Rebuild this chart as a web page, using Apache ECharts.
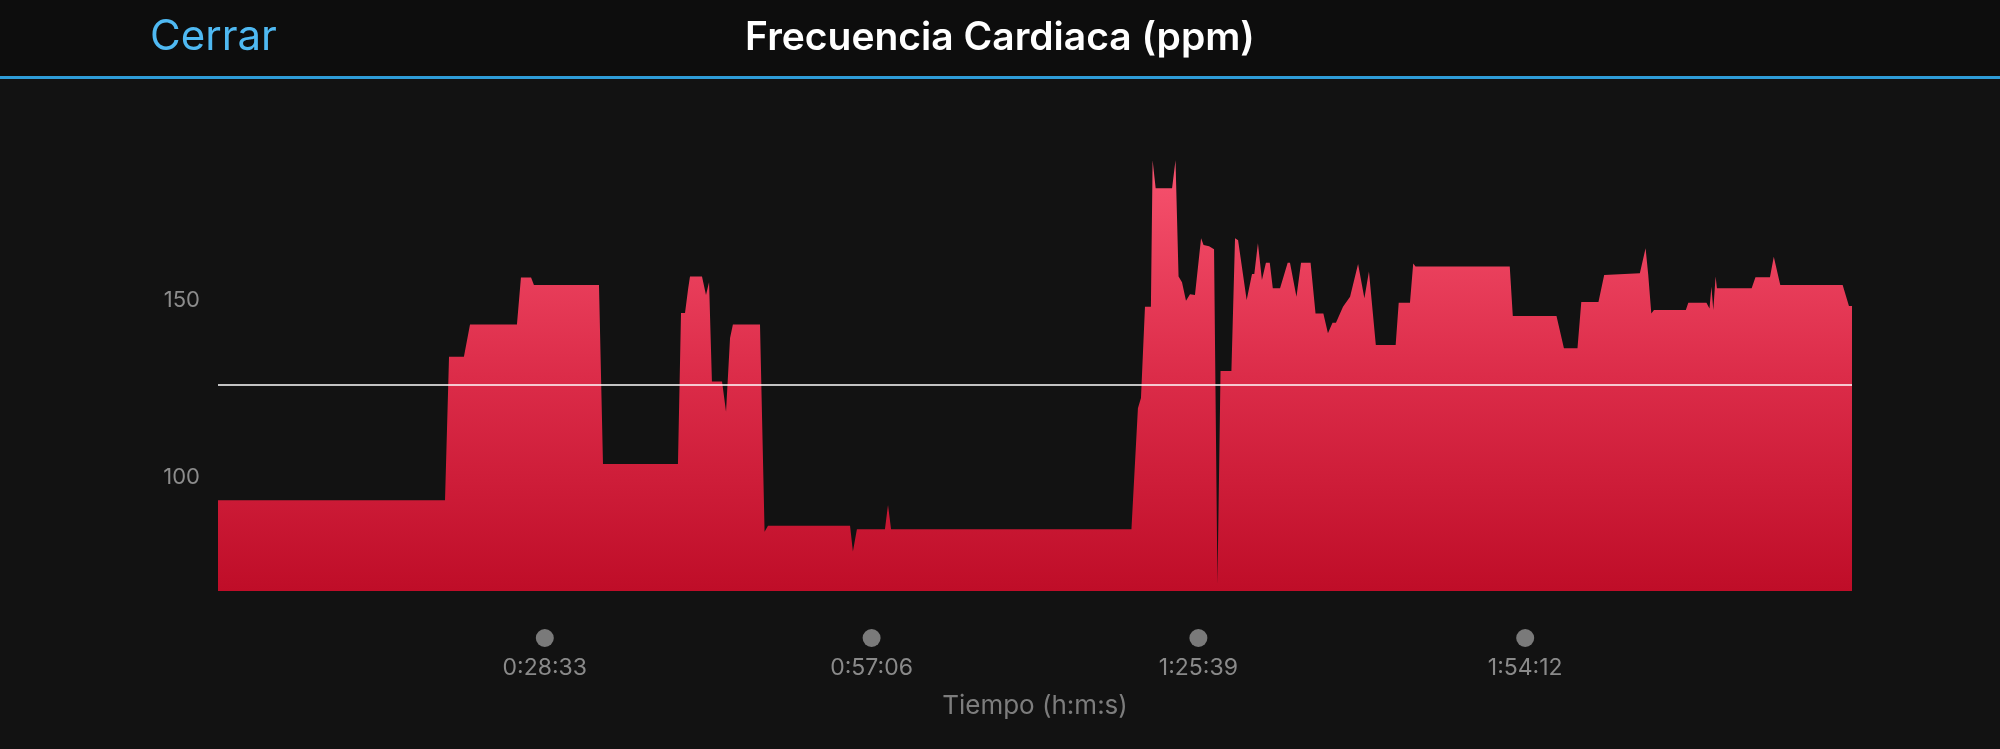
<!DOCTYPE html>
<html>
<head>
<meta charset="utf-8">
<script src="https://cdn.jsdelivr.net/npm/echarts@6/dist/echarts.min.js"></script>
<style>
html,body{margin:0;padding:0;background:#121212;}
#chart{width:2000px;height:749px;}
</style>
</head>
<body>
<div id="chart"></div>
<script>
// Elapsed time in seconds
const times = [0,1190,1211,1289,1321,1567,1588,1641,1656,1997,2018,2411,2427,2448,2464,2474,2537,2558,2574,2589,2642,2663,2684,2699,2841,2865,2883,3313,3328,3349,3496,3512,3528,4788,4822,4838,4859,4890,4899,4915,5001,5019,5035,5053,5074,5095,5121,5153,5166,5195,5221,5239,5255,5312,5331,5347,5392,5420,5432,5451,5472,5493,5513,5529,5567,5607,5619,5653,5677,5727,5753,5794,5818,5842,5860,5897,5934,5976,6009,6033,6069,6173,6189,6248,6265,6277,6771,6787,7016,7055,7126,7146,7236,7266,7453,7483,7497,7513,7527,7694,7707,7802,7818,7828,7838,7850,7857,8039,8059,8135,8155,8189,8516,8549,8565];
// Heart rate (ppm)
const bpm = [93.6,93.6,134,134,143.1,143.1,156.3,156.3,154.2,154.2,103.8,103.8,146.3,146.3,153,156.6,156.6,151.4,155,127,127,118.5,139.3,143.1,143.1,84.7,86.4,86.4,79.1,85.4,85.4,92.2,85.4,85.4,119.5,122.4,148.1,148.1,189.4,181.5,181.5,189.4,156.6,155,149.8,151.6,151.4,167.4,165.5,165.1,164.3,70,130,130,167.4,166.8,150,157.3,157.3,166,155.6,160.5,160.5,153.3,153.3,160.5,160.5,150.9,160.5,160.5,146.2,146.2,140.6,143.6,143.6,148.1,150.9,160.1,150.5,158,137.3,137.3,149.2,149.2,160.3,159.4,159.4,145.5,145.5,136.4,136.4,149.4,149.4,157,157.5,164.6,157,146.2,147.2,147.2,149.2,149.2,147.6,153.7,147.2,156.6,153.3,153.3,156.4,156.4,162.2,154.2,154.2,148.3,148.3];
const averageBpm = 126.2;
const xTickInterval = 1713;      // 0:28:33
const xMax = 8565;               // total duration
const yLabelValues = [100, 150];
const titleText = 'Frecuencia Cardiaca (ppm)';
const closeText = 'Cerrar';
const xAxisName = 'Tiempo (h:m:s)';

const data = times.map((t, i) => [t, bpm[i]]);

function fmt(v) {
  const h = Math.floor(v / 3600);
  const m = Math.floor((v % 3600) / 60);
  const s = Math.round(v % 60);
  return h + ':' + String(m).padStart(2, '0') + ':' + String(s).padStart(2, '0');
}

const chart = echarts.init(document.getElementById('chart'), null, {renderer: 'canvas'});
const FONT = 'Inter, "Noto Sans", sans-serif';
chart.setOption({
  backgroundColor: '#121212',
  animation: false,
  title: {
    text: titleText,
    left: 'center',
    top: 14,
    textStyle: {color: '#ffffff', fontSize: 39, fontWeight: 600, fontFamily: FONT}
  },
  graphic: [
    {type: 'rect', z: -10, shape: {x: 0, y: 0, width: 2000, height: 76}, style: {fill: '#0d0d0d'}},
    {type: 'rect', z: -9, shape: {x: 0, y: 76, width: 2000, height: 3}, style: {fill: '#2e9cd8'}},
    {type: 'text', left: 150, top: 16, style: {text: closeText, fill: '#4fb9f2', fontSize: 42, fontFamily: FONT}}
  ],
  grid: {left: 218, right: 148, top: 158, bottom: 158},
  xAxis: {
    type: 'value',
    min: 0,
    max: xMax,
    interval: xTickInterval,
    axisLine: {show: false},
    axisTick: {show: false},
    splitLine: {show: false},
    name: xAxisName,
    nameLocation: 'middle',
    nameGap: 102,
    nameTextStyle: {color: '#7d7d7d', fontSize: 26, fontFamily: FONT},
    axisLabel: {
      margin: 38,
      formatter: function (v) {
        if (v <= 0 || v >= xMax) return '';
        return '{dot| }\n{t|' + fmt(v) + '}';
      },
      rich: {
        dot: {width: 18, height: 18, lineHeight: 18, borderRadius: 9, backgroundColor: '#7a7a7a'},
        t: {color: '#8a8a8a', fontSize: 23, lineHeight: 42, fontFamily: FONT}
      }
    }
  },
  yAxis: {
    type: 'value',
    min: 68,
    max: 190,
    axisLine: {show: false},
    axisTick: {show: false},
    splitLine: {show: false},
    axisLabel: {
      customValues: yLabelValues,
      margin: 18,
      color: '#8c8c8c',
      fontSize: 22,
      fontFamily: FONT
    }
  },
  series: [{
    type: 'line',
    data: data,
    showSymbol: false,
    symbol: 'none',
    lineStyle: {width: 0, opacity: 0},
    areaStyle: {
      opacity: 1,
      color: new echarts.graphic.LinearGradient(0, 0, 0, 1, [
        {offset: 0, color: '#f7536f'},
        {offset: 0.5, color: '#dc2c49'},
        {offset: 1, color: '#bf0d28'}
      ])
    },
    markLine: {
      silent: true,
      symbol: 'none',
      label: {show: false},
      lineStyle: {color: 'rgba(255,255,255,0.75)', width: 2, type: 'solid'},
      data: [{yAxis: averageBpm}]
    }
  }]
});
</script>
</body>
</html>
